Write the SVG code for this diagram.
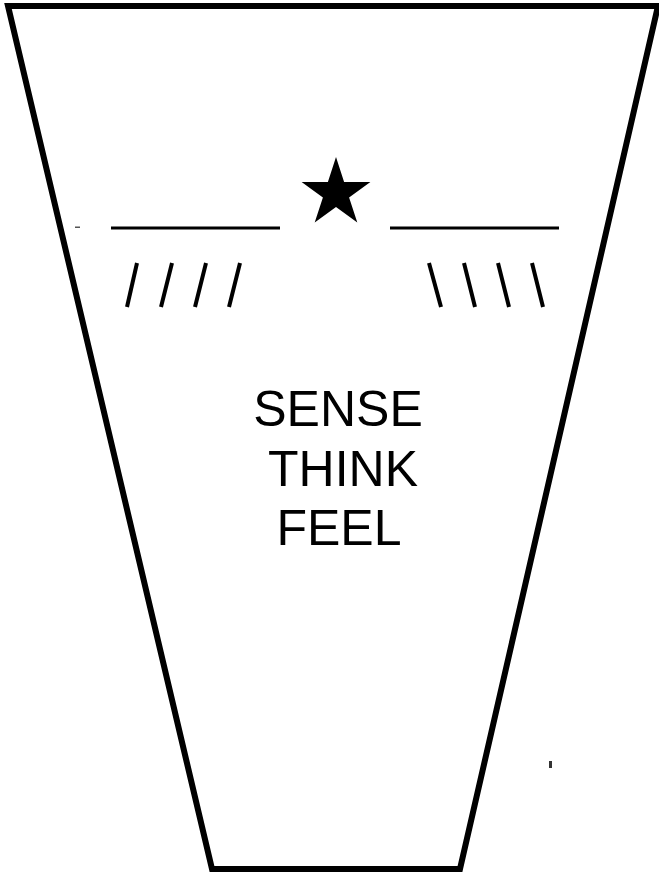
<svg xmlns="http://www.w3.org/2000/svg" width="659" height="876" viewBox="0 0 659 876">
<style>
.outline{fill:#fff;stroke:#000;stroke-width:6;stroke-linejoin:miter}
.hline{stroke:#000;stroke-width:3;stroke-linecap:butt}
.slash{stroke:#000;stroke-width:4;stroke-linecap:butt}
.label{font-family:"Liberation Sans",Arial,sans-serif;font-size:50px;fill:#000;text-anchor:middle}
</style>
<rect width="659" height="876" fill="#fff"/>
<g id="cup">
<polygon class="outline" points="8,6 658,6 460,869 212,869"/>
</g>
<g id="star">
<polygon fill="#000" points="336,157 344.1,182.1 370.4,182.0 349.1,197.5 357.3,222.5 336,207.0 314.7,222.5 322.9,197.5 301.6,182.0 327.9,182.1"/>
</g>
<g id="lines">
<line class="hline" x1="111" y1="228" x2="280" y2="228"/>
<line class="hline" x1="390" y1="228" x2="559" y2="228"/>
</g>
<g id="left-slashes">
<line class="slash" x1="137" y1="263" x2="127" y2="307"/>
<line class="slash" x1="172" y1="263" x2="161" y2="307"/>
<line class="slash" x1="206" y1="263" x2="195" y2="307"/>
<line class="slash" x1="240" y1="263" x2="229" y2="307"/>
</g>
<g id="right-slashes">
<line class="slash" x1="429" y1="263" x2="441" y2="307"/>
<line class="slash" x1="464" y1="263" x2="475" y2="307"/>
<line class="slash" x1="498" y1="263" x2="509" y2="307"/>
<line class="slash" x1="532" y1="263" x2="543" y2="307"/>
</g>
<g id="marks">
<rect x="75" y="226.5" width="5" height="1.5" fill="#555"/>
<rect x="549" y="761" width="3" height="7" fill="#333"/>
</g>
<g id="text">
<text class="label" x="338" y="426">SENSE</text>
<text class="label" x="343" y="486">THINK</text>
<text class="label" x="339" y="545">FEEL</text>
</g>
</svg>
